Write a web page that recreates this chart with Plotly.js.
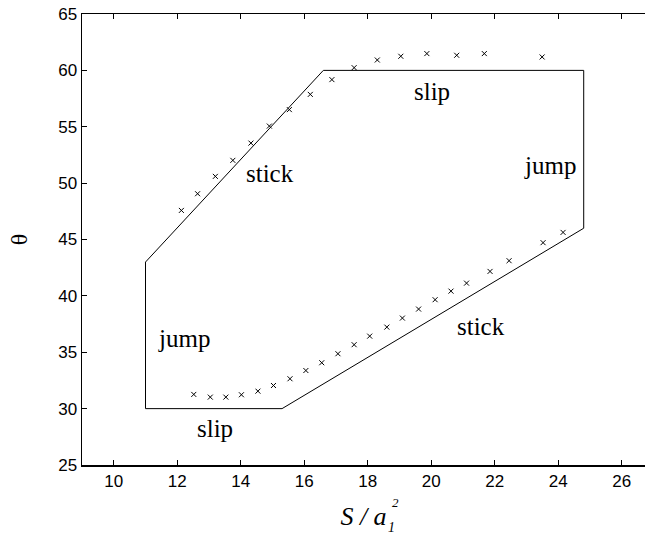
<!DOCTYPE html>
<html>
<head>
<meta charset="utf-8">
<script src="https://cdn.plot.ly/plotly-3.0.1.min.js"></script>
<style>
  body { margin: 0; background: #fff; }
  #plot { width: 645px; height: 542px; }
</style>
</head>
<body>
<div id="plot"></div>
<script>
// Boundary of the stick / slip / jump region
let boundaryX = [11, 16.6, 24.8, 24.8, 15.3, 11, 11];
let boundaryY = [43, 60, 60, 46, 30, 30, 43];

// Upper branch of measured points
let upperX = [12.13, 12.64, 13.2, 13.75, 14.32, 14.9, 15.53, 16.19, 16.87, 17.57, 18.3, 19.04, 19.86, 20.8, 21.67, 23.49];
let upperY = [47.58, 49.06, 50.6, 52.02, 53.55, 55.06, 56.52, 57.87, 59.18, 60.24, 60.92, 61.25, 61.49, 61.34, 61.49, 61.19];

// Lower branch of measured points
let lowerX = [12.52, 13.04, 13.53, 14.02, 14.54, 15.03, 15.55, 16.05, 16.55, 17.06, 17.57, 18.06, 18.6, 19.09, 19.6, 20.12, 20.62, 21.11, 21.85, 22.45, 23.52, 24.15];
let lowerY = [31.26, 31.02, 31.02, 31.23, 31.55, 32.05, 32.65, 33.38, 34.07, 34.87, 35.67, 36.43, 37.23, 38.03, 38.83, 39.66, 40.42, 41.13, 42.17, 43.12, 44.72, 45.63];

// Region labels
let labelText = ["stick", "slip", "jump", "jump", "slip", "stick"];
let labelX = [14.93, 20.01, 23.73, 12.2, 13.18, 21.57];
let labelY = [50.87, 58.1, 51.6, 36.22, 28.24, 37.25];

let xTicks = [10, 12, 14, 16, 18, 20, 22, 24, 26];
let yTicks = [25, 30, 35, 40, 45, 50, 55, 60, 65];

let serif = "Liberation Serif, Times New Roman, serif";

let trace1 = {
  x: boundaryX,
  y: boundaryY,
  mode: "lines",
  line: { color: "#000", width: 1 },
  hoverinfo: "skip"
};

let markerStyle = {
  symbol: "x-thin",
  size: 5,
  color: "#000",
  line: { color: "#000", width: 1 }
};

let trace2 = {
  x: upperX,
  y: upperY,
  mode: "markers",
  marker: markerStyle
};

let trace3 = {
  x: lowerX,
  y: lowerY,
  mode: "markers",
  marker: markerStyle
};

let data = [trace1, trace2, trace3];

// Text labels inside the plot
let annotations = [];
for (let i = 0; i < labelText.length; i++) {
  annotations.push({
    x: labelX[i],
    y: labelY[i],
    xref: "x",
    yref: "y",
    text: labelText[i],
    showarrow: false,
    xanchor: "center",
    yanchor: "middle",
    font: { family: serif, size: 25, color: "#000" }
  });
}

// subscript 1 and superscript 2 of the x title, stacked
annotations.push({
  x: 0.5506,
  y: -0.138,
  xref: "paper",
  yref: "paper",
  text: "<i>1</i>",
  showarrow: false,
  xanchor: "center",
  yanchor: "middle",
  font: { family: serif, size: 14, color: "#000" }
});
annotations.push({
  x: 0.5575,
  y: -0.084,
  xref: "paper",
  yref: "paper",
  text: "<i>2</i>",
  showarrow: false,
  xanchor: "center",
  yanchor: "middle",
  font: { family: serif, size: 13, color: "#000" }
});

let tickFont = { family: "Liberation Sans, Arial, sans-serif", size: 17, color: "#000" };

let layout = {
  width: 645,
  height: 542,
  showlegend: false,
  paper_bgcolor: "#fff",
  plot_bgcolor: "#fff",
  margin: { l: 82, r: 0, t: 14, b: 77 },
  xaxis: {
    range: [9, 26.73],
    tickvals: xTicks,
    ticks: "inside",
    ticklen: 5,
    tickcolor: "#000",
    showline: true,
    linecolor: "#000",
    linewidth: 1.5,
    mirror: "ticks",
    showgrid: false,
    zeroline: false,
    tickfont: tickFont,
    title: {
      text: "<i>S / a</i>  ",
      standoff: 17,
      font: { family: serif, size: 26, color: "#000" }
    }
  },
  yaxis: {
    range: [25, 65],
    tickvals: yTicks,
    ticks: "inside",
    ticklen: 5,
    tickcolor: "#000",
    showline: true,
    linecolor: "#000",
    linewidth: 1.5,
    showgrid: false,
    zeroline: false,
    tickfont: tickFont,
    title: {
      text: "θ",
      standoff: 24,
      font: { family: serif, size: 24, color: "#000" }
    }
  },
  annotations: annotations
};

Plotly.newPlot("plot", data, layout, { staticPlot: true });
</script>
</body>
</html>
